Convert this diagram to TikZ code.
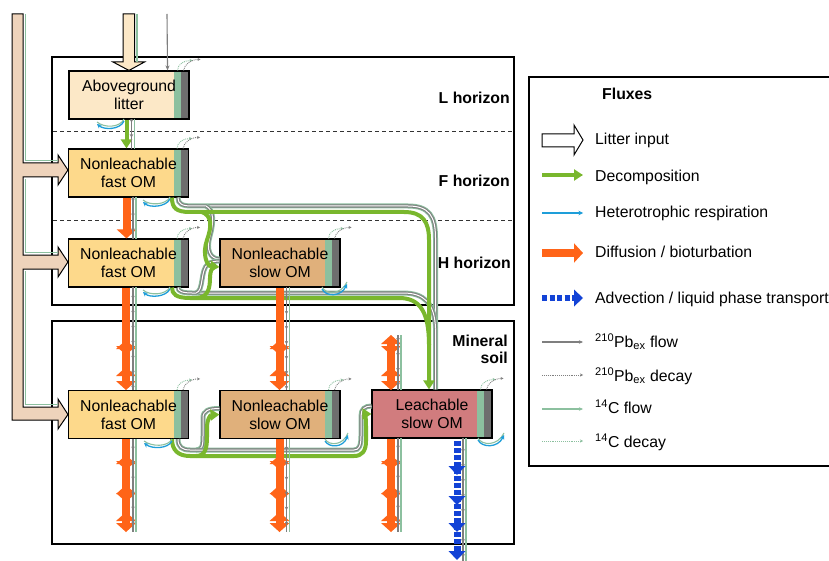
\documentclass[tikz,border=0pt]{standalone}
\usepackage{fontspec}
\setmainfont{Liberation Sans}
\usetikzlibrary{arrows.meta,calc,decorations.markings}
\definecolor{litfill}{HTML}{FCE8C7}
\definecolor{fastfill}{HTML}{FDD98B}
\definecolor{slowfill}{HTML}{E0B07B}
\definecolor{leachfill}{HTML}{D17C7E}
\definecolor{trunkfill}{HTML}{EED3BB}
\definecolor{cfour}{HTML}{8CC09F}
\definecolor{stripgray}{HTML}{6E6E6E}
\definecolor{pbgray}{HTML}{7F7F7F}
\definecolor{decomp}{HTML}{79B72D}
\definecolor{orng}{HTML}{FF6418}
\definecolor{resp}{HTML}{1E9ED9}
\definecolor{adv}{HTML}{1343D6}
\newcommand\myfont{\fontsize{15.8pt}{18pt}\selectfont}
\newcommand\oup[2]{\fill[orng] (#1-10,#2+9) -- (#1,#2) -- (#1+10,#2+9) -- cycle;}
\newcommand\odn[2]{\fill[orng] (#1-10,#2-9) -- (#1,#2) -- (#1+10,#2-9) -- cycle;}
\newcommand\thinpair[3]{%
  \draw[pbgray, line width=1.1pt, postaction={decorate}, decoration={markings, mark=between positions 0.12 and 1 step 15pt with {\arrow{Stealth[length=3.5pt,width=3.5pt]}}}] (#1+7,#2) -- (#1+7,#3);
  \draw[cfour, line width=1.1pt] (#1+10,#2) -- (#1+10,#3);}
\newcommand\decay[1]{%
  \draw[cfour, densely dotted, line width=0.9pt, -{Stealth[length=3pt,width=3pt]}] ($(#1.north east)+(-12,0)$) .. controls ($(#1.north east)+(-12,-6)$) and ($(#1.north east)+(-6,-10)$) .. ($(#1.north east)+(3,-10)$);
  \draw[pbgray, densely dotted, line width=0.9pt, -{Stealth[length=3pt,width=3pt]}] ($(#1.north east)+(-6,0)$) .. controls ($(#1.north east)+(-5,-6)$) and ($(#1.north east)+(1,-11)$) .. ($(#1.north east)+(11,-11)$);}
\begin{document}
\begin{tikzpicture}[x=1pt,y=-1pt,
  ombox/.style={draw=black, line width=1.1pt, minimum width=120pt, minimum height=48pt, inner sep=0pt, align=center, font=\myfont,
    path picture={
      \fill[cfour] ($(path picture bounding box.north east)+(-15,0)$) rectangle ($(path picture bounding box.south east)+(-8,0)$);
      \fill[stripgray] ($(path picture bounding box.north east)+(-8,0)$) rectangle (path picture bounding box.south east);}},
  decompl/.style={draw=decomp, line width=4pt},
  decarrow/.style={-{Triangle[width=11pt,length=9pt]}},
  pbc/.style={preaction={draw=cfour,line width=5pt}, draw=pbgray, line width=3.2pt, postaction={draw=white,line width=1pt}},
  respa/.style={draw=resp, line width=1.3pt, -{Stealth[length=4.5pt,width=4.5pt]}},
  respc/.style={draw=cfour, line width=1.1pt},
  lbl/.style={font={\myfont\bfseries}, inner sep=0pt},
  lgt/.style={font=\myfont, inner sep=0pt, anchor=base west},
  orl/.style={draw=orng, line width=8pt}]
\useasboundingbox (0,0) rectangle (829,561);
\clip (0,0) rectangle (829,561);
\fill[white] (0,0) rectangle (829,561);

% horizon boxes
\draw[line width=1.3pt] (52,57) rectangle (514,305);
\draw[line width=0.9pt, black!80, dash pattern=on 4pt off 3pt] (53,131) -- (513,131);
\draw[line width=0.9pt, black!80, dash pattern=on 4pt off 3pt] (53,220) -- (513,220);
\draw[line width=1.3pt] (52,321) rectangle (514,544);
\draw[line width=1.3pt] (529,77) rectangle (845,466);

% compartments
\node[ombox, fill=litfill] (lit) at (129,95) {Aboveground\\litter};
\node[ombox, fill=fastfill] (fF) at (128.5,173) {Nonleachable\\fast OM};
\node[ombox, fill=fastfill] (fH) at (128.5,263) {Nonleachable\\fast OM};
\node[ombox, fill=slowfill] (sH) at (280,263) {Nonleachable\\slow OM};
\node[ombox, fill=fastfill] (fM) at (128.5,414.5) {Nonleachable\\fast OM};
\node[ombox, fill=slowfill] (sM) at (280,414.5) {Nonleachable\\slow OM};
\node[ombox, fill=leachfill] (lM) at (432,414) {Leachable\\slow OM};

% horizon labels
\node[lbl, anchor=base east] (Lh) at (510,104) {L horizon};
\node[lbl, anchor=base east] (Fh) at (510,187) {F horizon};
\node[lbl, anchor=base east] (Hh) at (511,268) {H horizon};
\node[lbl, anchor=base east] (Mh1) at (508,346) {Mineral};
\node[lbl, anchor=base east] (Mh2) at (508,363) {soil};

% litter input trunk
\draw[line width=1pt, fill=trunkfill] (12,14) -- (12,420) -- (58,420) -- (58,429) -- (fM.west) -- (58,399) -- (58,407) -- (23,407) -- (23,269) -- (58,269) -- (58,277) -- ($(fH.west)+(0,-1)$) -- (58,247) -- (58,255) -- (23,255) -- (23,177) -- (58,177) -- (58,185) -- ($(fF.west)+(0,-3)$) -- (58,155) -- (58,163) -- (23,163) -- (23,14) -- cycle;
\draw[cfour, line width=1.1pt] (25.5,14) -- (25.5,160.5) -- (58,160.5);
\draw[cfour, line width=1.1pt] (25.5,179) -- (25.5,252.5) -- (58,252.5);
\draw[cfour, line width=1.1pt] (25.5,271) -- (25.5,404.5) -- (58,404.5);
% top litter input
\draw[line width=1pt, fill=litfill] (123,14) -- (123,62) -- (113,62) -- (lit.north) -- (144.5,62) -- (134.5,62) -- (134.5,14) -- cycle;
\draw[cfour, line width=1.1pt] (137,14) -- (137,62);
\draw[pbgray, line width=1.1pt, -{Stealth[length=5pt,width=4pt]}] (167,14) -- ($(lit.north east)+(-22,0)$);

% thin 210Pb / 14C routes
\draw[pbc] ($(fF.south)+(49.5,0)$) .. controls (178,204) and (182,206) .. (192,206) -- (408,206) .. controls (429,206) and (435.5,216) .. (435.5,238) -- ($(lM.north)+(3.5,0)$);
\draw[pbc] (206,206) .. controls (214,210) and (214,222) .. (210,236) .. controls (206,250) and (210,259) .. ($(sH.west)+(0,-4)$);
\draw[pbc] ($(fH.south)+(49.5,0)$) .. controls (178,291) and (182,293) .. (192,293) -- (403,293) .. controls (424,293) and (434.5,303) .. (435.5,328);
\draw[pbc] (196,293) .. controls (204,291) and (200,270) .. (208,264) .. controls (211,262) and (215,261) .. ($(sH.west)+(0,-2)$);
\draw[pbc] ($(fM.south)+(49.5,0)$) .. controls (178,447) and (182,450) .. (190,450) -- (196,450) .. controls (202,450) and (203,446) .. (203,436) -- (203,418) .. controls (203,411) and (208,408.5) .. ($(sM.west)+(0,-6)$);
\draw[pbc] (196,450) -- (354,450) .. controls (359,450) and (361,446) .. (361,436) -- (361,416) .. controls (361,409) and (365,406) .. ($(lM.west)+(0,-8)$);

% decomposition
\draw[decompl, decarrow] ($(lit.south)+(-2.5,0)$) -- ($(fF.north)+(-2,0)$);
\draw[decompl, decarrow] ($(fF.south)+(43.5,0)$) .. controls (172,208) and (176,212) .. (190,212) -- (404,212) .. controls (423,212) and (429,222) .. (429,240) -- ($(lM.north)+(-3,0)$);
\draw[decompl, decarrow] (202,212) .. controls (212,216) and (212,226) .. (207,240) .. controls (202,254) and (207,266) .. ($(sH.west)+(0,4)$);
\draw[decompl] ($(fH.south)+(43.5,0)$) .. controls (172,294) and (176,298) .. (190,298) -- (399,298) .. controls (420,298) and (429,312) .. (429,345);
\draw[decompl] (196,298) .. controls (208,298) and (210,288) .. (210,278) .. controls (210,271) and (212,268) .. (214,267);
\draw[decompl, decarrow] ($(fM.south)+(43.5,0)$) .. controls (172,450) and (178,456) .. (190,456) -- (196,456) .. controls (205,456) and (207,449) .. (207,437) -- (207,428) .. controls (207,418) and (211,415) .. (sM.west);
\draw[decompl, decarrow] (196,456) -- (354,456) .. controls (362,456) and (366,451) .. (366,441) -- (366,430) .. controls (366,418) and (366,414) .. (lM.west);

% diffusion / bioturbation
\draw[orl, -{Triangle[width=19pt,length=9pt]}] ($(fF.south)+(-2,0)$) -- ($(fH.north)+(-2,0)$);
\draw[orl] ($(fH.south)+(-2.5,0)$) -- ($(fM.north)+(-2.5,-7)$);
\oup{126}{340} \oup{126}{367} \odn{126}{355} \odn{126}{390}
\draw[orl] ($(fM.south)+(-2.5,0)$) -- (126,525);
\oup{126}{455} \oup{126}{485} \oup{126}{512} \odn{126}{470} \odn{126}{502} \odn{126}{532}
\draw[orl] ($(sH.south)+(-0.5,0)$) -- ($(sM.north)+(-0.5,-7)$);
\oup{279.5}{340} \oup{279.5}{367} \odn{279.5}{355} \odn{279.5}{390}
\draw[orl] ($(sM.south)+(-0.5,0)$) -- (279.5,525);
\oup{279.5}{455} \oup{279.5}{485} \oup{279.5}{512} \odn{279.5}{470} \odn{279.5}{502} \odn{279.5}{532}
\draw[orl] (391,340) -- ($(lM.north)+(-41,-7)$);
\oup{391}{335} \oup{391}{367} \odn{391}{355} \odn{391}{390}
\draw[orl] ($(lM.south)+(-41,0)$) -- (391,525);
\oup{391}{455} \oup{391}{485} \oup{391}{512} \odn{391}{470} \odn{391}{502} \odn{391}{532}

% thin flows beside vertical transports
\thinpair{124.5}{119}{149}
\thinpair{126}{197}{239}
\thinpair{126}{287}{390}
\thinpair{126}{439}{532}
\thinpair{279.5}{287}{390}
\thinpair{279.5}{439}{532}
\thinpair{391}{335}{390}
\thinpair{391}{438}{532}
\thinpair{456}{438}{561}

% advection
\draw[adv, line width=7pt, dash pattern=on 5pt off 2pt] ($(lM.south)+(25,2)$) -- (457,552);
\foreach \t in {475,505,532,560} {\fill[adv] (448.5,\t-9) -- (457,\t) -- (465.5,\t-9) -- cycle;}

% respiration
\draw[respc, shift={(0,-2)}] (124,121) .. controls (120,130) and (104,130) .. (97,124);
\draw[respa] (124,121) .. controls (120,130) and (104,130) .. (97,124);
\draw[respc, shift={(0,-2)}] (170,199) .. controls (166,207) and (150,208) .. (143,202);
\draw[respa] (170,199) .. controls (166,207) and (150,208) .. (143,202);
\draw[respc, shift={(0,-2)}] (170,289) .. controls (166,297) and (150,298) .. (143,292);
\draw[respa] (170,289) .. controls (166,297) and (150,298) .. (143,292);
\draw[respc, shift={(0,-2)}] (322,289) .. controls (326,297) and (341,297) .. (347,284);
\draw[respa] (322,289) .. controls (326,297) and (341,297) .. (347,284);
\draw[respc, shift={(0,-2)}] (172,441) .. controls (168,449) and (152,449) .. (144,443);
\draw[respa] (172,441) .. controls (168,449) and (152,449) .. (144,443);
\draw[respc, shift={(0,-2)}] (325,441) .. controls (329,448) and (343,448) .. (348,435);
\draw[respa] (325,441) .. controls (329,448) and (343,448) .. (348,435);
\draw[respc, shift={(0,-2)}] (478,440) .. controls (482,448) and (498,448) .. (504,435);
\draw[respa] (478,440) .. controls (482,448) and (498,448) .. (504,435);

% decay
\decay{lit} \decay{fF} \decay{fH} \decay{sH} \decay{fM} \decay{sM} \decay{lM}

% legend
\node[lbl, anchor=base west] (lgtitle) at (602,100) {Fluxes};
\draw[line width=1pt, fill=white] (542,134) -- (574,134) -- (574,125) -- (583,140) -- (574,155) -- (574,147) -- (542,147) -- cycle;
\node[lgt] (lg1) at (595,145) {Litter input};
\draw[decompl, decarrow] (542,175) -- (583,175);
\node[lgt] (lg2) at (595,182) {Decomposition};
\draw[respa, line width=1.2pt] (542,213) -- (583,213);
\node[lgt] (lg3) at (595,218) {Heterotrophic respiration};
\draw[orl, -{Triangle[width=19pt,length=9pt]}] (542,253) -- (583,253);
\node[lgt] (lg4) at (595,258) {Diffusion / bioturbation};
\draw[adv, line width=6pt, dash pattern=on 5pt off 2.5pt] (542,298) -- (574,298);
\fill[adv] (574,289.5) -- (583,298) -- (574,306.5) -- cycle;
\node[lgt] (lg5) at (595,303) {Advection / liquid phase transport};
\draw[pbgray, line width=1.2pt, -{Stealth[length=4pt,width=3.5pt]}] (542,342) -- (583,342);
\node[lgt] (lg6) at (595,347) {\textsuperscript{210}Pb\textsubscript{ex} flow};
\draw[pbgray, line width=0.9pt, densely dotted, -{Stealth[length=3pt,width=3pt]}] (542,375) -- (583,375);
\node[lgt] (lg7) at (595,381) {\textsuperscript{210}Pb\textsubscript{ex} decay};
\draw[cfour, line width=1.4pt, -{Stealth[length=4pt,width=3.5pt]}] (542,409) -- (583,409);
\node[lgt] (lg8) at (595,413) {\textsuperscript{14}C flow};
\draw[cfour, line width=0.9pt, densely dotted, -{Stealth[length=3pt,width=3pt]}] (542,441) -- (583,441);
\node[lgt] (lg9) at (595,447) {\textsuperscript{14}C decay};
\end{tikzpicture}
\end{document}
